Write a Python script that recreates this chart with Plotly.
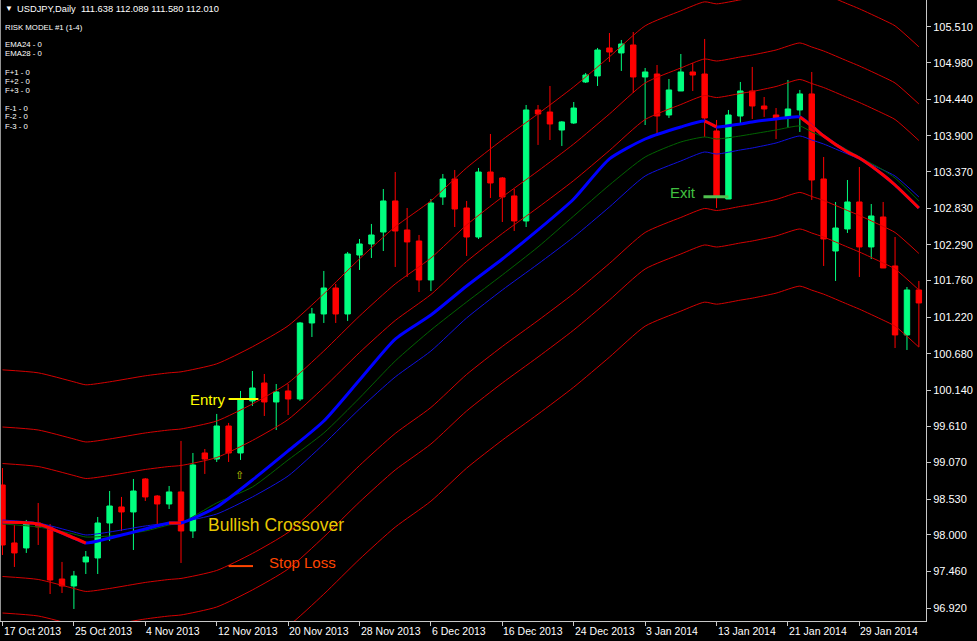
import plotly.graph_objects as go

# ---------------- data ----------------
tick_bars = [0, 6, 12, 18, 24, 30, 36, 42, 48, 54, 60, 66, 72]
tick_dates = ["17 Oct 2013", "25 Oct 2013", "4 Nov 2013", "12 Nov 2013", "20 Nov 2013",
              "28 Nov 2013", "6 Dec 2013", "16 Dec 2013", "24 Dec 2013", "3 Jan 2014",
              "13 Jan 2014", "21 Jan 2014", "29 Jan 2014"]

price_ticks = [105.510, 104.980, 104.440, 103.900, 103.370, 102.830, 102.290, 101.760,
               101.220, 100.680, 100.140, 99.610, 99.070, 98.530, 98.000, 97.460, 96.920]

opens = [98.739, 97.882, 97.808, 98.177, 98.118, 97.349, 97.246, 97.601, 97.660, 98.177,
         98.414, 98.340, 98.828, 98.576, 98.458, 98.636, 98.059, 99.212, 99.123, 99.611,
         99.212, 99.981, 100.247, 99.966, 100.129, 100.010, 101.134, 101.267, 101.651, 101.267,
         102.139, 102.302, 102.479, 102.938, 102.509, 102.346, 101.770, 102.997, 103.263, 102.834,
         102.405, 103.366, 103.278, 103.012, 102.642, 104.283, 104.253, 103.987, 104.091, 104.697,
         104.786, 105.200, 105.126, 105.244, 104.771, 104.815, 104.209, 104.564, 104.845, 104.815,
         103.973, 102.967, 104.194, 104.564, 104.342, 104.209, 104.165, 104.283, 104.520, 103.263,
         102.198, 102.524, 102.923, 102.258, 102.701, 101.977, 100.957, 101.622]
highs = [98.990, 98.148, 98.222, 98.473, 98.162, 97.601, 97.468, 97.763, 98.266, 98.650,
         98.562, 98.828, 98.842, 98.591, 98.724, 99.390, 99.212, 99.271, 99.789, 99.656,
         100.129, 100.424, 100.380, 100.232, 100.232, 101.149, 101.356, 101.903, 101.711, 102.184,
         102.376, 102.598, 103.115, 103.366, 102.834, 102.435, 102.967, 103.337, 103.396, 102.938,
         103.426, 103.928, 103.292, 103.115, 104.357, 104.357, 104.638, 104.120, 104.401, 104.830,
         105.200, 105.421, 105.318, 105.436, 104.904, 104.948, 104.741, 105.111, 104.978, 105.333,
         104.135, 104.283, 104.697, 104.919, 104.475, 104.312, 104.727, 104.579, 104.845, 103.588,
         102.923, 103.248, 103.440, 102.893, 102.923, 102.405, 101.666, 101.755]
lows = [97.704, 97.527, 97.734, 97.852, 97.127, 97.142, 96.906, 97.423, 97.423, 97.911,
        98.059, 97.778, 98.502, 98.162, 98.384, 97.586, 97.955, 98.902, 99.079, 99.079,
        99.109, 99.907, 99.759, 99.552, 99.774, 99.981, 100.927, 101.134, 101.134, 101.164,
        101.918, 102.095, 102.198, 101.962, 101.814, 101.592, 101.607, 102.879, 102.553, 102.125,
        102.376, 102.982, 102.627, 102.494, 102.553, 103.766, 103.839, 103.751, 104.076, 104.682,
        104.638, 104.993, 104.860, 104.534, 104.061, 103.899, 104.165, 104.564, 104.564, 103.884,
        102.834, 102.967, 104.091, 104.150, 104.180, 103.854, 104.017, 103.958, 102.952, 101.977,
        101.755, 102.465, 101.814, 102.080, 101.947, 100.764, 100.735, 100.779]
closes = [97.852, 97.734, 98.162, 98.118, 97.334, 97.246, 97.394, 97.675, 98.177, 98.428,
          98.340, 98.650, 98.562, 98.458, 98.636, 98.059, 99.035, 99.123, 99.611, 99.212,
          99.996, 100.173, 99.966, 100.114, 100.010, 101.134, 101.267, 101.651, 101.267, 102.154,
          102.302, 102.435, 102.938, 102.494, 102.332, 101.770, 102.908, 103.263, 102.819, 102.405,
          103.366, 103.204, 102.997, 102.642, 104.283, 104.224, 104.076, 104.106, 104.312, 104.800,
          105.170, 105.140, 105.259, 104.771, 104.845, 104.194, 104.579, 104.845, 104.800, 104.165,
          102.997, 104.209, 104.564, 104.342, 104.298, 104.165, 104.298, 104.520, 103.248, 102.376,
          102.538, 102.923, 102.258, 102.716, 101.947, 100.957, 101.622, 101.430]

# indicator lines, read at these bars
line_bars = [0, 3, 6, 7, 9, 12, 14, 15, 18, 21, 24, 27, 30, 33, 36, 39, 42, 45, 48, 51,
             54, 57, 59, 60, 62, 63, 65, 67, 68, 69, 71, 72, 74, 75, 77]
ema24 = [98.192, 98.162, 97.955, 97.881, 97.955, 98.088, 98.177, 98.177, 98.414, 98.813,
         99.242, 99.685, 100.291, 100.897, 101.252, 101.681, 102.080, 102.509, 102.967, 103.559,
         103.854, 104.032, 104.120, 104.032, 104.076, 104.106, 104.150, 104.180, 104.046, 103.899,
         103.662, 103.573, 103.322, 103.174, 102.834]
ema28 = [98.162, 98.118, 98.014, 97.970, 97.985, 98.059, 98.148, 98.177, 98.473, 98.709,
         99.109, 99.508, 100.025, 100.572, 101.030, 101.444, 101.844, 102.258, 102.716, 103.174,
         103.588, 103.810, 103.884, 103.854, 103.899, 103.928, 103.987, 104.046, 103.958, 103.884,
         103.692, 103.588, 103.396, 103.278, 102.938]
base_line = [98.221, 98.177, 98.044, 98.000, 98.044, 98.133, 98.177, 98.192, 98.310, 98.562,
             98.872, 99.345, 99.862, 100.336, 100.720, 101.208, 101.622, 102.006, 102.405, 102.849,
             103.307, 103.529, 103.662, 103.632, 103.692, 103.721, 103.795, 103.899, 103.839, 103.780,
             103.632, 103.559, 103.396, 103.307, 102.997]
band_offsets = [0.835, 1.375, 2.22]          # F1, F2, F3 distance from the base line
falling_spans = [(0, 7), (14, 15), (59, 60), (67, 77)]   # EMA24 drawn red

n = len(opens)
xs = list(range(n))

# ---------------- figure ----------------
fig = go.Figure()

fig.add_trace(go.Candlestick(
    x=xs, open=opens, high=highs, low=lows, close=closes,
    increasing=dict(fillcolor="#00ff7f", line=dict(color="#00ff7f", width=1)),
    decreasing=dict(fillcolor="#ff0000", line=dict(color="#ff0000", width=1)),
    whiskerwidth=0, showlegend=False, hoverinfo="skip"))

# envelope bands
for k, off in enumerate(band_offsets):
    for sgn in (1, -1):
        fig.add_trace(go.Scatter(
            x=line_bars, y=[v + sgn * off for v in base_line], mode="lines",
            line=dict(color="#d40000", width=1, shape="spline", smoothing=0.6),
            showlegend=False, hoverinfo="skip"))

fig.add_trace(go.Scatter(x=line_bars, y=base_line, mode="lines",
                         line=dict(color="#1010e0", width=1, shape="spline", smoothing=0.6),
                         showlegend=False, hoverinfo="skip"))
fig.add_trace(go.Scatter(x=line_bars, y=ema28, mode="lines",
                         line=dict(color="#006400", width=1, shape="spline", smoothing=0.6),
                         showlegend=False, hoverinfo="skip"))
fig.add_trace(go.Scatter(x=line_bars, y=ema24, mode="lines",
                         line=dict(color="#0000ff", width=3, shape="spline", smoothing=0.6),
                         showlegend=False, hoverinfo="skip"))
for a, b in falling_spans:
    seg_x = [bx for bx in line_bars if a <= bx <= b]
    seg_y = [ema24[i] for i, bx in enumerate(line_bars) if a <= bx <= b]
    fig.add_trace(go.Scatter(x=seg_x, y=seg_y, mode="lines",
                             line=dict(color="#ff0000", width=3, shape="spline", smoothing=0.6),
                             showlegend=False, hoverinfo="skip"))

# trade markers
fig.add_trace(go.Scatter(x=[19.0, 21.5], y=[100.01, 100.01], mode="lines",
                         line=dict(color="#ffff00", width=2), showlegend=False, hoverinfo="skip"))
fig.add_trace(go.Scatter(x=[19.0, 21.05], y=[97.54, 97.54], mode="lines",
                         line=dict(color="#ff4500", width=2), showlegend=False, hoverinfo="skip"))
fig.add_trace(go.Scatter(x=[58.9, 61.0], y=[103.0, 103.0], mode="lines",
                         line=dict(color="#50c050", width=3), showlegend=False, hoverinfo="skip"))

ann = []
def txt(x, y, s, color, size, xref="x", yref="y", xanchor="left"):
    ann.append(dict(x=x, y=y, xref=xref, yref=yref, text=s, showarrow=False,
                    xanchor=xanchor, yanchor="middle",
                    font=dict(family="Liberation Sans, Arial, sans-serif", size=size, color=color)))

txt(15.6, 100.01, "Entry", "#ffff00", 15)
txt(19.95, 98.89, "⇧", "#c8c800", 11, xanchor="center")
txt(17.1, 98.15, "Bullish Crossover", "#e8c800", 17.5)
txt(22.2, 97.60, "Stop Loss", "#ff4500", 15)
txt(55.9, 103.06, "Exit", "#40c040", 15)

# header texts (paper coords: plot area 926 x 621 px)
W, H = 926.0, 621.0
def head(px, py, s, size=9.5):
    txt(px / W, 1 - py / H, s, "#ffffff", size, xref="paper", yref="paper")
head(3, 9, "▼", 8)
head(15, 9, "USDJPY,Daily  111.638 112.089 111.580 112.010", 9.3)
for py, s in [(28, "RISK MODEL #1 (1-4)"), (45, "EMA24 - 0"), (54, "EMA28 - 0"),
              (72.5, "F+1 - 0"), (81.5, "F+2 - 0"), (90.5, "F+3 - 0"),
              (108, "F-1 - 0"), (117, "F-2 - 0"), (126, "F-3 - 0")]:
    head(3, py, s, 7.8)

# date labels, left-aligned at their tick like the terminal does
for b, d in zip(tick_bars, tick_dates):
    ann.append(dict(x=b, y=0, xref="x", yref="paper", text=d, showarrow=False,
                    xanchor="left", yanchor="top", xshift=-1, yshift=-2,
                    font=dict(family="Liberation Sans, Arial, sans-serif", size=10.5, color="#ffffff")))

fig.update_layout(
    width=977, height=641, autosize=False,
    paper_bgcolor="#000000", plot_bgcolor="#000000",
    margin=dict(l=0, r=51, t=0, b=20, autoexpand=False),
    showlegend=False, annotations=ann, boxgap=0.35,
    shapes=[dict(type="line", xref="paper", yref="paper", x0=0.0005, x1=0.0005, y0=0, y1=1,
                 line=dict(color="#9a9a9a", width=1))],
    xaxis=dict(range=[-0.21, 77.6], rangeslider=dict(visible=False), showgrid=False, zeroline=False,
               showline=True, linecolor="#c8c8c8", linewidth=1, ticks="outside", ticklen=4,
               tickcolor="#c8c8c8", tickvals=tick_bars, showticklabels=False, fixedrange=True,
               automargin=False),
    yaxis=dict(side="right", range=[96.728, 105.909], showgrid=False, zeroline=False,
               showline=True, linecolor="#c8c8c8", linewidth=1, ticks="outside", ticklen=4,
               tickcolor="#c8c8c8", tickvals=price_ticks, ticktext=["%.3f" % v for v in price_ticks],
               tickfont=dict(family="Liberation Sans, Arial, sans-serif", size=11, color="#ffffff"),
               fixedrange=True, automargin=False),
)

fig.write_html("out.html", config={"displayModeBar": False},
               post_script="document.body.style.margin='0px';document.body.style.padding='0px';"
                           "document.documentElement.style.overflow='hidden';")
